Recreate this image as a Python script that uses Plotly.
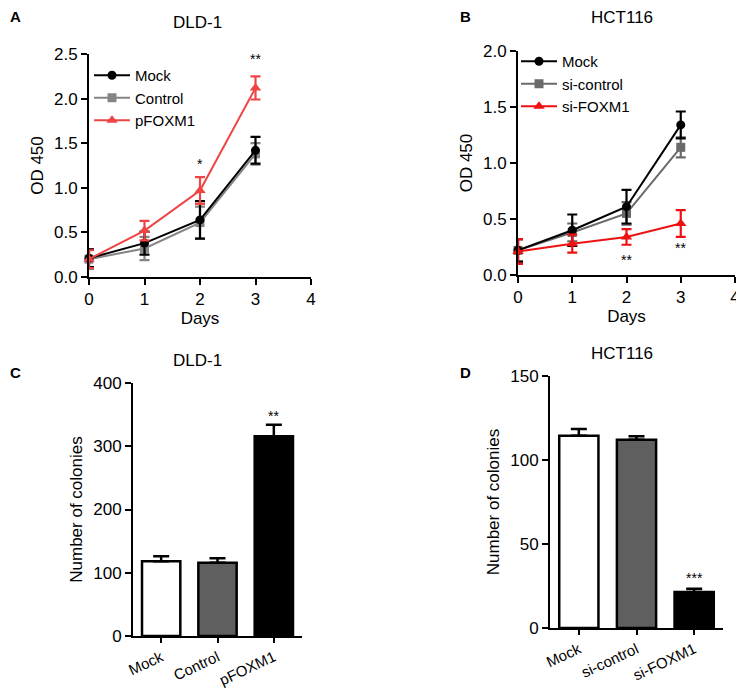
import plotly.graph_objects as go

# ---------------- data ----------------
days = [0, 1, 2, 3]

a_mock = [0.21, 0.38, 0.64, 1.42]
a_mock_err = [0.10, 0.13, 0.21, 0.15]
a_control = [0.20, 0.32, 0.61, 1.38]
a_control_err = [0.11, 0.13, 0.18, 0.12]
a_pfoxm1 = [0.20, 0.52, 0.97, 2.12]
a_pfoxm1_err = [0.10, 0.11, 0.15, 0.13]

b_mock = [0.22, 0.40, 0.61, 1.34]
b_mock_err = [0.10, 0.14, 0.15, 0.12]
b_sicontrol = [0.22, 0.38, 0.55, 1.14]
b_sicontrol_err = [0.10, 0.08, 0.10, 0.09]
b_sifoxm1 = [0.21, 0.28, 0.34, 0.46]
b_sifoxm1_err = [0.11, 0.08, 0.07, 0.12]

c_groups = ["Mock", "Control", "pFOXM1"]
c_values = [118, 116, 316]
c_err = [8, 7, 18]

d_groups = ["Mock", "si-control", "si-FOXM1"]
d_values = [114.5, 112, 21.5]
d_err = [4, 2.2, 1.8]

FONT = "Liberation Sans, Arial, sans-serif"
FS = 17
RED_A = "#EE4444"
RED_B = "#EE1111"
GRAY_A = "#858585"
GRAY_B = "#6a6a6a"

W, H = 736, 683   # page body has an 8px margin
OFF = 8


def px(x):
    return (x - OFF) / W


def py(y):
    return 1 - (y - OFF) / H


fig = go.Figure()


def line_trace(x, y, err, name, color, symbol, xa, ya, legend, rank, size=9):
    return go.Scatter(
        x=x, y=y, name=name, mode="lines+markers",
        line=dict(color=color, width=2),
        marker=dict(color=color, symbol=symbol, size=size),
        error_y=dict(type="data", array=err, visible=True, color=color,
                     thickness=2.2, width=5),
        xaxis=xa, yaxis=ya, legend=legend, legendrank=rank,
        cliponaxis=False,
    )


# Panel A
fig.add_trace(line_trace(days, a_control, a_control_err, "Control", GRAY_A, "square", "x", "y", "legend", 2))
fig.add_trace(line_trace(days, a_mock, a_mock_err, "Mock", "black", "circle", "x", "y", "legend", 1))
fig.add_trace(line_trace(days, a_pfoxm1, a_pfoxm1_err, "pFOXM1", RED_A, "triangle-up", "x", "y", "legend", 3, 10))

# Panel B
fig.add_trace(line_trace(days, b_sicontrol, b_sicontrol_err, "si-control", GRAY_B, "square", "x2", "y2", "legend2", 2))
fig.add_trace(line_trace(days, b_mock, b_mock_err, "Mock", "black", "circle", "x2", "y2", "legend2", 1))
fig.add_trace(line_trace(days, b_sifoxm1, b_sifoxm1_err, "si-FOXM1", RED_B, "triangle-up", "x2", "y2", "legend2", 3, 10))

# Panel C
fig.add_trace(go.Bar(
    x=c_groups, y=c_values, width=0.68,
    marker=dict(color=["white", "#5f5f5f", "black"], line=dict(color="black", width=2.5)),
    error_y=dict(type="data", array=c_err, arrayminus=[0, 0, 0], symmetric=False,
                 color="black", thickness=2.5, width=8),
    xaxis="x3", yaxis="y3", showlegend=False,
))

# Panel D
fig.add_trace(go.Bar(
    x=d_groups, y=d_values, width=0.68,
    marker=dict(color=["white", "#5f5f5f", "black"], line=dict(color="black", width=2.5)),
    error_y=dict(type="data", array=d_err, arrayminus=[0, 0, 0], symmetric=False,
                 color="black", thickness=2.5, width=8),
    xaxis="x4", yaxis="y4", showlegend=False,
))

axis_common = dict(
    showgrid=False, zeroline=False, showline=True, linecolor="black", linewidth=2,
    ticks="outside", ticklen=6, tickwidth=2, tickcolor="black", automargin=False,
    tickfont=dict(family=FONT, size=FS, color="black"),
    title_font=dict(family=FONT, size=FS, color="black"),
)
bar_x_common = dict(axis_common)
bar_x_common["tickfont"] = dict(family=FONT, size=15, color="black")
bar_x_common["ticklen"] = 5

fig.update_layout(
    width=W, height=H,
    margin=dict(l=0, r=0, t=0, b=0),
    paper_bgcolor="white", plot_bgcolor="white",
    font=dict(family=FONT, color="black"),
    xaxis=dict(domain=[px(89), px(311)], range=[0, 4], dtick=1, anchor="y",
               title=dict(text="Days", standoff=4), **axis_common),
    yaxis=dict(domain=[py(277), py(54)], range=[0, 2.5], dtick=0.5, tickformat=".1f",
               anchor="x", title=dict(text="OD 450", standoff=6), **axis_common),
    xaxis2=dict(domain=[px(518), px(735)], range=[0, 4], dtick=1, anchor="y2",
                title=dict(text="Days", standoff=4), **axis_common),
    yaxis2=dict(domain=[py(275), py(51)], range=[0, 2], dtick=0.5, tickformat=".1f",
                anchor="x2", title=dict(text="OD 450", standoff=6), **axis_common),
    xaxis3=dict(domain=[px(133), px(302)], anchor="y3", tickangle=-25, **bar_x_common),
    yaxis3=dict(domain=[py(636), py(383)], range=[0, 400], dtick=100, anchor="x3",
                title=dict(text="Number of colonies", standoff=6), **axis_common),
    xaxis4=dict(domain=[px(550), px(723)], anchor="y4", tickangle=-25, **bar_x_common),
    yaxis4=dict(domain=[py(628), py(376)], range=[0, 150], dtick=50, anchor="x4",
                title=dict(text="Number of colonies", standoff=6), **axis_common),
    legend=dict(x=px(89), y=py(59), xanchor="left", yanchor="top", bgcolor="rgba(0,0,0,0)",
                font=dict(family=FONT, size=15, color="black"), tracegroupgap=0,
                itemwidth=36),
    legend2=dict(x=px(516), y=py(45), xanchor="left", yanchor="top", bgcolor="rgba(0,0,0,0)",
                 font=dict(family=FONT, size=15, color="black"), tracegroupgap=0,
                 itemwidth=36),
)

annotations = []
# panel letters
for letter, xl, yl in [("A", 15, 16), ("B", 465, 16), ("C", 15, 372), ("D", 465, 372)]:
    annotations.append(dict(text=f"<b>{letter}</b>", x=px(xl), y=py(yl), xref="paper", yref="paper",
                            xanchor="center", yanchor="middle",
                            showarrow=False, font=dict(family=FONT, size=15, color="black")))
# titles
for title, xt, yt in [("DLD-1", 197, 23), ("HCT116", 622, 17), ("DLD-1", 197, 360), ("HCT116", 622, 353)]:
    annotations.append(dict(text=title, x=px(xt), y=py(yt), xref="paper", yref="paper",
                            xanchor="center", yanchor="middle",
                            showarrow=False, font=dict(family=FONT, size=FS, color="black")))
# significance stars
stars = [("*", 2, 1.27, "x", "y"), ("**", 3, 2.44, "x", "y"),
         ("**", 2, 0.13, "x2", "y2"), ("**", 3, 0.24, "x2", "y2"),
         ("**", 2, 348, "x3", "y3"), ("***", 2, 30, "x4", "y4")]
for s, xv, yv, xr, yr in stars:
    annotations.append(dict(text=s, x=xv, y=yv, xref=xr, yref=yr, showarrow=False,
                            font=dict(family=FONT, size=14, color="black")))
fig.update_layout(annotations=annotations)

fig.write_html("out.html")
